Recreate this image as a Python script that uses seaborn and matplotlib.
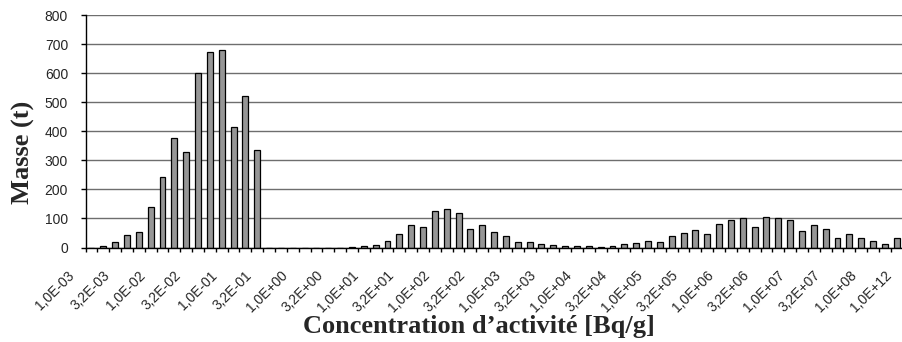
import numpy as np
import pandas as pd
import seaborn as sns
import matplotlib.pyplot as plt
from matplotlib.transforms import ScaledTranslation

# mass per activity-concentration bin (1/6 decade per bin)
masse = [0, 5, 20, 42, 55, 141, 244, 376, 330, 599,
         674, 678, 414, 523, 334, 0, 0, 0, 0, 0,
         0, 0, 3, 4, 8, 21, 48, 77, 69, 124,
         131, 120, 64, 77, 54, 38, 19, 19, 12, 8,
         4, 4, 4, 3, 4, 12, 15, 22, 18, 38,
         50, 61, 45, 81, 93, 100, 69, 105, 100, 93,
         57, 79, 64, 33, 45, 33, 21, 12, 33]

tick_labels = ["1,0E-03", "3,2E-03", "1,0E-02", "3,2E-02", "1,0E-01", "3,2E-01",
               "1,0E+00", "3,2E+00", "1,0E+01", "3,2E+01", "1,0E+02", "3,2E+02",
               "1,0E+03", "3,2E+03", "1,0E+04", "3,2E+04", "1,0E+05", "3,2E+05",
               "1,0E+06", "3,2E+06", "1,0E+07", "3,2E+07", "1,0E+08", "1,0E+12"]

bins = list(range(len(masse)))
n_cat = 3 * (len(tick_labels) - 1) + 1

sns.set_style("white")
plt.rcParams['font.family'] = ['Liberation Sans', 'DejaVu Sans']

fig = plt.figure(figsize=(9.03, 3.42), dpi=100)
ax = fig.add_axes([0.0947, 0.2763, 0.918, 0.6798])

df = pd.DataFrame({"bin": bins, "masse": masse})
sns.barplot(data=df, x="bin", y="masse", color="#969696", saturation=1,
            edgecolor="black", linewidth=0.9, width=0.5, ax=ax)

ax.set_xlim(-0.5, n_cat - 0.5)
ax.set_ylim(0, 800)
ax.set_yticks(range(0, 801, 100))
ax.yaxis.grid(True, color="#6e6e6e", linewidth=1)
ax.set_axisbelow(True)

ax.set_xticks(range(0, n_cat, 3))
ax.set_xticklabels(tick_labels, rotation=45, ha="right", va="top",
                   rotation_mode="anchor", fontsize=10)
ax.set_xticks(np.arange(-0.5, n_cat, 1), minor=True)
ax.tick_params(axis="x", which="major", length=0, pad=15)
ax.tick_params(axis="x", which="minor", length=3, width=1, color="black",
               direction="out", bottom=True)
ax.tick_params(axis="y", length=3.6, width=1, color="black", direction="out",
               left=True, pad=9, labelsize=10)

offset = ScaledTranslation(-0.24, 0, fig.dpi_scale_trans)
for lbl in ax.get_xticklabels():
    lbl.set_transform(lbl.get_transform() + offset)

for side in ["top", "right"]:
    ax.spines[side].set_visible(False)
for side in ["left", "bottom"]:
    ax.spines[side].set_color("black")
    ax.spines[side].set_linewidth(1)

ax.set_ylabel("Masse (t)", fontsize=19, fontweight="bold", family="Liberation Serif")
ax.set_xlabel("Concentration d\u2019activit\u00e9 [Bq/g]", fontsize=19,
              fontweight="bold", family="Liberation Serif")
ax.yaxis.set_label_coords(-0.075, 0.41)
ax.xaxis.set_label_coords(0.475, -0.338)
ax.xaxis.label.set_va("center")
ax.yaxis.label.set_va("center")

fig.savefig("out.png", dpi=100)
